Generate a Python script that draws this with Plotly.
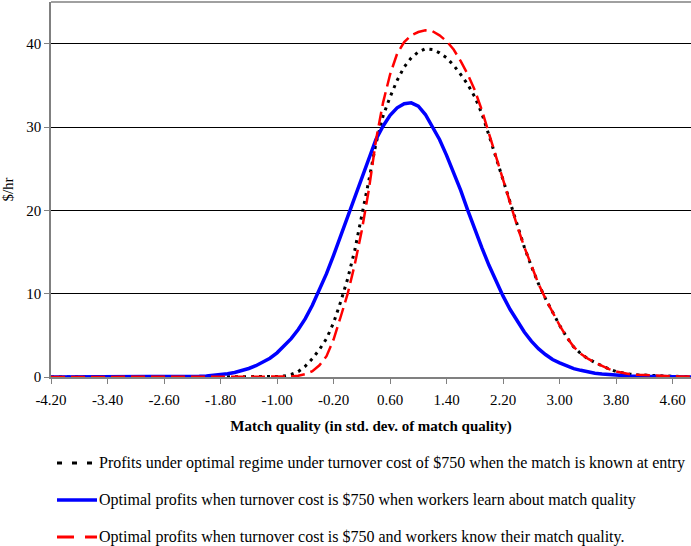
import plotly.graph_objects as go

# Match quality (std. dev.), step 0.1
match_quality = [
    -4.2, -4.1, -4.0, -3.9, -3.8, -3.7, -3.6, -3.5, -3.4, -3.3,
    -3.2, -3.1, -3.0, -2.9, -2.8, -2.7, -2.6, -2.5, -2.4, -2.3,
    -2.2, -2.1, -2.0, -1.9, -1.8, -1.7, -1.6, -1.5, -1.4, -1.3,
    -1.2, -1.1, -1.0, -0.9, -0.8, -0.7, -0.6, -0.5, -0.4, -0.3,
    -0.2, -0.1, 0.0, 0.1, 0.2, 0.3, 0.4, 0.5, 0.6, 0.7,
    0.8, 0.9, 1.0, 1.1, 1.2, 1.3, 1.4, 1.5, 1.6, 1.7,
    1.8, 1.9, 2.0, 2.1, 2.2, 2.3, 2.4, 2.5, 2.6, 2.7,
    2.8, 2.9, 3.0, 3.1, 3.2, 3.3, 3.4, 3.5, 3.6, 3.7,
    3.8, 3.9, 4.0, 4.1, 4.2, 4.3, 4.4, 4.5, 4.6, 4.7,
    4.8, 4.9,
]

profits_known_at_entry = [
    0, 0, 0, 0, 0, 0, 0, 0, 0, 0,
    0, 0, 0, 0, 0, 0, 0, 0, 0, 0,
    0, 0, 0, 0, 0, 0, 0, 0, 0, 0,
    0, 0.02, 0.05, 0.12, 0.3, 0.65, 1.3, 2.2, 3.3, 4.6,
    6.5, 9.0, 11.8, 15.2, 19.2, 23.6, 28.0, 31.3, 33.6, 35.6,
    37.2, 38.3, 39.0, 39.4, 39.3, 38.9, 38.3, 37.4, 36.3, 35.1,
    33.6, 31.6, 29.0, 26.3, 23.6, 20.8, 18.1, 15.6, 13.3, 11.2,
    9.4, 7.7, 6.2, 4.8, 3.6, 2.8, 2.2, 1.75, 1.3, 0.95,
    0.65, 0.45, 0.33, 0.26, 0.21, 0.18, 0.15, 0.12, 0.09, 0.07,
    0.05, 0.04,
]

profits_learn = [
    0, 0, 0, 0, 0, 0, 0, 0, 0, 0,
    0, 0, 0, 0, 0, 0, 0, 0, 0.02, 0.03,
    0.05, 0.08, 0.13, 0.19, 0.28, 0.40, 0.55, 0.75, 1.02, 1.35,
    1.75, 2.25, 2.9, 3.7, 4.6, 5.7, 7.0, 8.6, 10.4, 12.4,
    14.6, 16.9, 19.2, 21.5, 23.9, 26.4, 28.5, 30.1, 31.4, 32.3,
    32.8, 32.9, 32.5, 31.5, 30.1, 28.5, 26.6, 24.6, 22.4, 20.0,
    17.7, 15.5, 13.4, 11.5, 9.7, 8.1, 6.7, 5.4, 4.3, 3.4,
    2.7, 2.1, 1.7, 1.3, 1.0, 0.8, 0.6, 0.45, 0.35, 0.27,
    0.2, 0.16, 0.12, 0.09, 0.07, 0.05, 0.04, 0.03, 0.02, 0.01,
    0.01, 0,
]

profits_know = [
    0, 0, 0, 0, 0, 0, 0, 0, 0, 0,
    0, 0, 0, 0, 0, 0, 0, 0, 0, 0,
    0, 0, 0, 0, 0, 0, 0, 0, 0, 0,
    0, 0, 0, 0, 0.05, 0.15, 0.35, 0.7, 1.4, 2.5,
    4.5, 7.2, 10.0, 13.5, 17.6, 22.5, 28.4, 32.9, 36.3, 38.8,
    40.2, 41.0, 41.4, 41.6, 41.5, 41.0, 40.3, 39.3, 37.9, 36.3,
    34.4, 32.0, 29.2, 26.3, 23.6, 20.8, 18.1, 15.6, 13.3, 11.2,
    9.4, 7.7, 6.2, 4.8, 3.6, 2.8, 2.2, 1.75, 1.3, 0.95,
    0.65, 0.45, 0.33, 0.26, 0.21, 0.18, 0.15, 0.12, 0.09, 0.07,
    0.05, 0.04,
]

x_tick_vals = [-4.2, -3.4, -2.6, -1.8, -1.0, -0.2, 0.6, 1.4, 2.2, 3.0, 3.8, 4.6]
x_tick_text = ["-4.20", "-3.40", "-2.60", "-1.80", "-1.00", "-0.20",
               "0.60", "1.40", "2.20", "3.00", "3.80", "4.60"]
y_tick_vals = [0, 10, 20, 30, 40]

legend_labels = [
    "Profits under optimal regime under turnover cost of $750 when the match is known at entry",
    "Optimal profits when turnover cost is $750 when workers learn about match quality",
    "Optimal profits when turnover cost is $750 and workers know their match quality.",
]

FONT = "Liberation Serif, Times New Roman, serif"

fig = go.Figure()
fig.add_trace(go.Scatter(x=match_quality, y=profits_known_at_entry, mode="lines",
                         line=dict(color="#000000", width=3, dash="3px,5px"),
                         name=legend_labels[0], showlegend=False))
fig.add_trace(go.Scatter(x=match_quality, y=profits_learn, mode="lines",
                         line=dict(color="#0000FF", width=3.5),
                         name=legend_labels[1], showlegend=False))
fig.add_trace(go.Scatter(x=match_quality, y=profits_know, mode="lines",
                         line=dict(color="#FF0000", width=2.5, dash="14px,6px"),
                         name=legend_labels[2], showlegend=False))

# Manual legend (pixel layout: plot area 51..691 x, 2..377 y)
def px_x(px):
    return (px - 51) / 640.0

def px_y(py):
    return (377 - py) / 375.0

legend_rows = [463, 500, 537]
legend_styles = [
    dict(color="#000000", width=3, dash="5px,10px"),
    dict(color="#0000FF", width=3.5),
    dict(color="#FF0000", width=3, dash="17px,11px"),
]
shapes = []
annotations = []
for row, style, label in zip(legend_rows, legend_styles, legend_labels):
    shapes.append(dict(type="line", xref="paper", yref="paper",
                       x0=px_x(57), x1=px_x(97), y0=px_y(row), y1=px_y(row),
                       line=style))
    annotations.append(dict(xref="paper", yref="paper", x=px_x(97), y=px_y(row),
                            xanchor="left", yanchor="middle", showarrow=False,
                            text=label.replace("$", "&#36;"),
                            font=dict(family=FONT, size=16, color="#000000")))

# top border of plot area
shapes.append(dict(type="line", xref="paper", yref="paper", x0=0, x1=1, y0=1, y1=1,
                   line=dict(color="#808080", width=1.5)))

fig.update_layout(
    width=691, height=546,
    margin=dict(l=51, r=0, t=2, b=169),
    paper_bgcolor="white", plot_bgcolor="white",
    font=dict(family=FONT, size=15, color="#000000"),
    shapes=shapes, annotations=annotations,
    xaxis=dict(range=[-4.2, 4.86], tickmode="array", tickvals=x_tick_vals,
               ticktext=x_tick_text, showgrid=False, zeroline=False,
               showline=True, linecolor="#808080", linewidth=1.5,
               ticks="outside", ticklen=5, tickcolor="#808080",
               ticklabelstandoff=3,
               tickfont=dict(family=FONT, size=15),
               title=dict(text="<b>Match quality (in std. dev. of match quality)</b>",
                          font=dict(family=FONT, size=15), standoff=14)),
    yaxis=dict(range=[0, 45], tickmode="array", tickvals=y_tick_vals,
               showgrid=True, gridcolor="#000000", gridwidth=1, zeroline=False,
               showline=True, linecolor="#808080", linewidth=1.5,
               ticks="outside", ticklen=5, tickcolor="#808080",
               tickfont=dict(family=FONT, size=15),
               title=dict(text="&#36;/hr", font=dict(family=FONT, size=15), standoff=10)),
)

fig.write_html("out.html", config={"displayModeBar": False},
               post_script="document.body.style.margin='0';document.body.style.padding='0';")
